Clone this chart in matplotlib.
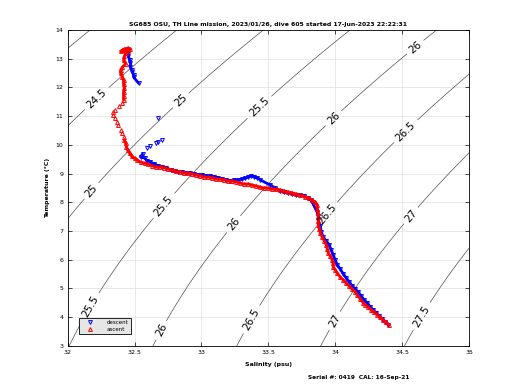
import numpy as np
import matplotlib
matplotlib.use("Agg")
import matplotlib.pyplot as plt

title = "SG685 OSU, TH Line mission, 2023/01/26, dive 605 started 17-Jun-2023 22:22:31"
footer = "Serial #: 0419  CAL: 16-Sep-21"
xticks = [32, 32.5, 33, 33.5, 34, 34.5, 35]
xticklabels = ["32", "32.5", "33", "33.5", "34", "34.5", "35"]
yticks = list(range(3, 15))
sigma_levels = np.arange(23.0, 28.5, 0.5)

# descent (surface -> deep)
desc_S = [32.455,32.455,32.455,32.463,32.470,32.470,32.478,32.485,32.493,32.493,32.530,32.672,32.709,32.679,32.657,32.619,32.597,32.560,32.545,32.575,32.597,32.619,32.649,32.679,32.709,32.739,32.769,32.799,32.828,32.858,32.888,32.918,32.948,32.978,33.007,33.037,33.067,33.097,33.127,33.157,33.187,33.216,33.246,33.276,33.306,33.328,33.351,33.373,33.396,33.418,33.440,33.515,33.552,33.590,33.619,33.649,33.679,33.709,33.739,33.769,33.799,33.821,33.836,33.851,33.866,33.873,33.873,33.888,33.896,33.910,33.933,33.955,33.970,33.985,34.000,34.015,34.037,34.060,34.082,34.104,34.127,34.149,34.172,34.194,34.216,34.239,34.261,34.284,34.306,34.328,34.351,34.373,34.396]
desc_T = [13.30,13.20,13.09,12.95,12.85,12.71,12.61,12.54,12.43,12.36,12.15,10.94,10.17,10.10,10.07,9.96,9.89,9.68,9.58,9.54,9.44,9.40,9.33,9.27,9.23,9.20,9.13,9.09,9.06,9.06,9.02,9.02,8.99,8.95,8.95,8.92,8.92,8.88,8.85,8.81,8.78,8.74,8.78,8.78,8.81,8.85,8.88,8.92,8.88,8.85,8.78,8.60,8.50,8.40,8.36,8.33,8.29,8.26,8.26,8.22,8.15,8.08,7.94,7.80,7.66,7.52,7.39,7.18,6.97,6.79,6.65,6.52,6.34,6.17,5.99,5.82,5.68,5.51,5.37,5.23,5.09,4.98,4.88,4.74,4.60,4.50,4.36,4.25,4.15,4.04,3.94,3.84,3.73]

# ascent (deep -> surface)
asc_S = [34.403,34.381,34.358,34.336,34.313,34.291,34.269,34.246,34.224,34.209,34.187,34.164,34.149,34.127,34.104,34.082,34.060,34.037,34.015,34.000,33.985,33.985,33.978,33.963,33.948,33.940,33.933,33.918,33.903,33.888,33.881,33.873,33.873,33.873,33.873,33.866,33.866,33.851,33.828,33.806,33.776,33.739,33.709,33.679,33.649,33.619,33.590,33.560,33.530,33.500,33.470,33.440,33.410,33.381,33.351,33.321,33.291,33.261,33.231,33.201,33.172,33.142,33.112,33.082,33.052,33.022,32.993,32.963,32.933,32.903,32.873,32.843,32.813,32.784,32.754,32.724,32.694,32.664,32.634,32.604,32.575,32.545,32.522,32.500,32.478,32.463,32.448,32.440,32.433,32.425,
         32.418,32.410,32.396,32.373,32.366,32.351,32.343,32.336,32.351,32.381,32.403,32.418,32.418,32.418,32.425,32.418,32.418,32.410,32.396,32.396,32.410,32.433,32.418,32.425,32.433,32.410,32.425,32.448,32.470,32.455,32.396]
asc_T = [3.73,3.84,3.90,4.01,4.08,4.18,4.25,4.36,4.43,4.50,4.64,4.78,4.88,4.98,5.09,5.19,5.30,5.40,5.54,5.65,5.75,5.89,5.99,6.13,6.24,6.38,6.52,6.65,6.79,6.93,7.07,7.21,7.35,7.49,7.63,7.77,7.91,8.01,8.08,8.15,8.19,8.26,8.29,8.33,8.36,8.40,8.43,8.46,8.46,8.50,8.50,8.53,8.57,8.60,8.64,8.64,8.67,8.71,8.74,8.74,8.78,8.81,8.81,8.85,8.88,8.88,8.92,8.95,8.99,9.02,9.02,9.06,9.09,9.13,9.16,9.20,9.23,9.23,9.27,9.33,9.37,9.40,9.47,9.54,9.61,9.72,9.82,9.93,10.07,10.17,
         10.27,10.41,10.52,10.69,10.80,10.94,11.04,11.14,11.21,11.35,11.46,11.56,11.70,11.84,11.98,12.12,12.26,12.36,12.50,12.61,12.71,12.82,12.95,13.09,13.20,13.30,13.34,13.37,13.34,13.27,13.27]

# index ranges where the profile samples are densely packed (continuous band in the plot)
asc_dense = [(0, 90), (101, len(asc_S))]
desc_dense = [(0, 11), (17, len(desc_S))]


def sigma0(S, T):
    rw = (999.842594 + 6.793952e-2*T - 9.095290e-3*T**2 + 1.001685e-4*T**3
          - 1.120083e-6*T**4 + 6.536332e-9*T**5)
    r = (rw + S*(0.824493 - 4.0899e-3*T + 7.6438e-5*T**2 - 8.2467e-7*T**3 + 5.3875e-9*T**4)
         + S**1.5*(-5.72466e-3 + 1.0227e-4*T - 1.6546e-6*T**2) + 4.8314e-4*S**2)
    return r - 1000.0


plt.rcParams['font.family'] = ['DejaVu Sans']
fig = plt.figure(figsize=(5.2, 3.9), dpi=100)
ax = fig.add_axes([0.13, 0.113, 0.772, 0.81])

sg, tg = np.meshgrid(np.linspace(31.8, 35.2, 300), np.linspace(2.5, 14.5, 300))
cs = ax.contour(sg, tg, sigma0(sg, tg), levels=sigma_levels, colors='#505050', linewidths=0.5)
label_pos = [(32.231, 11.56), (32.843, 11.56), (33.455, 11.21), (34.075, 10.52), (34.672, 9.82),
             (34.597, 13.41), (32.17, 8.43), (32.73, 7.84), (33.25, 7.21), (33.96, 7.50),
             (34.56, 7.56), (32.172, 4.36), (32.694, 3.56), (33.381, 3.905), (33.985, 3.905),
             (34.657, 4.01)]
ax.clabel(cs, fontsize=7.5, fmt=lambda v: f"{v:g}", manual=label_pos, inline=True,
          inline_spacing=3, colors='black')

mk = dict(linestyle='none', markersize=2.8, markeredgewidth=0.7, markerfacecolor='none')
for a, b in desc_dense:
    ax.plot(desc_S[a:b], desc_T[a:b], '-', color='blue', lw=2.0, solid_capstyle='round')
ax.plot(desc_S, desc_T, marker='v', color='blue', label='descent', **mk)
for a, b in asc_dense:
    ax.plot(asc_S[a:b], asc_T[a:b], '-', color='red', lw=2.0, solid_capstyle='round')
ax.plot(asc_S, asc_T, marker='^', color='red', label='ascent', **mk)

ax.set_xlim(32, 35)
ax.set_ylim(3, 14)
ax.set_xticks(xticks)
ax.set_xticklabels(xticklabels)
ax.set_yticks(yticks)
ax.tick_params(direction='in', labelsize=4.5, length=3, width=0.5, top=True, right=True,
               labeltop=False, labelright=False, pad=3)
ax.grid(True, color='#e0e0e0', linewidth=0.5)
ax.set_axisbelow(True)
for sp in ax.spines.values():
    sp.set_linewidth(0.6)
ax.set_xlabel('Salinity (psu)', fontsize=4.5, fontweight='bold', labelpad=5)
ax.set_ylabel('Temperature (°C)', fontsize=4.5, fontweight='bold', labelpad=4)
ax.set_title(title, fontsize=4.4, fontweight='bold', pad=3)

leg = ax.legend(loc='lower left', fontsize=4, frameon=True, fancybox=False,
                handlelength=3.0, handletextpad=1.6, borderpad=0.4, labelspacing=0.35,
                bbox_to_anchor=(0.022, 0.028))
leg.get_frame().set_facecolor('#e6e6e6')
leg.get_frame().set_edgecolor('black')
leg.get_frame().set_linewidth(0.6)
leg.get_frame().set_alpha(1)

fig.text(0.689, 0.031, footer, fontsize=4.2, fontweight='bold', ha='center', va='center')

fig.savefig('out.png', dpi=100)
